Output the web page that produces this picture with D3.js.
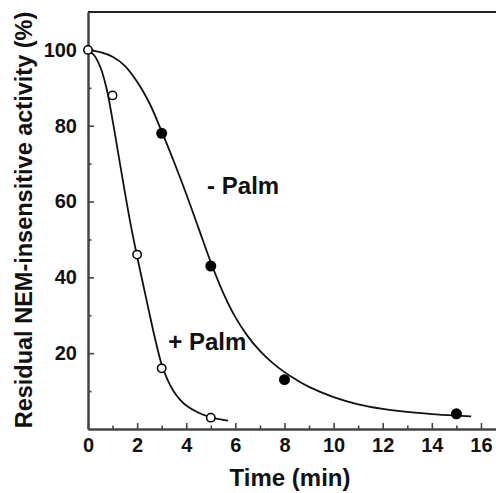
<!DOCTYPE html>
<html>
<head>
<meta charset="utf-8">
<script src="https://cdn.jsdelivr.net/npm/d3@7"></script>
<style>
  body { margin: 0; background: #fff; }
  svg { display: block; }
  text { font-family: "Liberation Sans", Arial, sans-serif; font-weight: bold; fill: #111; }
</style>
</head>
<body>
<div id="chart"></div>
<script>
// measured points
const plusT = [0, 1, 2, 3, 5];
const plusV = [100, 88, 46, 16, 3];
const minusT = [3, 5, 8, 15];
const minusV = [78, 43, 13, 4];

// fitted curves
const plusCurveT = [0, 0.25, 0.5, 0.75, 1, 1.25, 1.5, 1.75, 2, 2.25, 2.5, 2.75, 3, 3.25, 3.5, 3.75, 4, 4.5, 5, 5.35, 5.7];
const plusCurveV = [100, 98.6, 95.5, 90, 81.5, 72, 62.5, 53.5, 45.5, 38, 30.5, 23.3, 17, 12.8, 9.8, 7.7, 6.2, 4.3, 3.1, 2.6, 2.2];
const minusCurveT = [0, 0.5, 1, 1.5, 2, 2.5, 3, 3.5, 4, 4.5, 5, 5.5, 6, 6.5, 7, 7.5, 8, 8.5, 9, 10, 11, 12, 13, 14, 15, 15.6];
const minusCurveV = [100, 99.4, 98.2, 95.8, 91.6, 86, 78.5, 70.5, 62, 53, 44, 36, 29.5, 24.5, 20.6, 17.5, 15, 12.9, 11.1, 8.4, 6.5, 5.3, 4.5, 3.95, 3.55, 3.35];

const xMajor = [0, 2, 4, 6, 8, 10, 12, 14, 16];
const xMinor = [1, 3, 5, 7, 9, 11, 13, 15];
const yMajor = [20, 40, 60, 80, 100];
const yMinor = [10, 30, 50, 70, 90];

const width = 496, height = 493;

const svg = d3.select("#chart").append("svg")
    .attr("width", width)
    .attr("height", height);

const x = d3.scaleLinear().domain([0, 16.6]).range([88, 495.7]);
const y = d3.scaleLinear().domain([0, 110]).range([429, 12]);

// top frame line
svg.append("line")
    .attr("x1", x(0)).attr("x2", width)
    .attr("y1", y(110)).attr("y2", y(110))
    .attr("stroke", "#222").attr("stroke-width", 2);

function styleAxis(g) {
    g.select(".domain").attr("stroke", "#444").attr("stroke-width", 2);
    g.selectAll(".tick line").attr("stroke", "#444").attr("stroke-width", 1.6);
    g.selectAll(".tick text")
        .attr("fill", "#111")
        .attr("font-size", 20)
        .attr("font-family", "'Liberation Sans', Arial, sans-serif")
        .attr("font-weight", "bold");
}

// minor ticks
svg.append("g")
    .attr("transform", `translate(0,${y(0)})`)
    .call(d3.axisBottom(x).tickValues(xMinor).tickSize(-3.5).tickSizeOuter(0).tickFormat(""))
    .call(styleAxis);
svg.append("g")
    .attr("transform", `translate(${x(0)},0)`)
    .call(d3.axisLeft(y).tickValues(yMinor).tickSize(-3.5).tickSizeOuter(0).tickFormat(""))
    .call(styleAxis);

// major ticks
svg.append("g")
    .attr("transform", `translate(0,${y(0)})`)
    .call(d3.axisBottom(x).tickValues(xMajor).tickSize(-6).tickSizeOuter(0).tickPadding(9).tickFormat(d3.format("d")))
    .call(styleAxis);
svg.append("g")
    .attr("transform", `translate(${x(0)},0)`)
    .call(d3.axisLeft(y).tickValues(yMajor).tickSize(-6).tickSizeOuter(0).tickPadding(11).tickFormat(d3.format("d")))
    .call(styleAxis);

// curves
const line = d3.line()
    .x(d => x(d[0]))
    .y(d => y(d[1]))
    .curve(d3.curveCatmullRom.alpha(0.5));

svg.append("path")
    .datum(plusCurveT.map((t, i) => [t, plusCurveV[i]]))
    .attr("d", line)
    .attr("fill", "none").attr("stroke", "#111").attr("stroke-width", 1.8);

svg.append("path")
    .datum(minusCurveT.map((t, i) => [t, minusCurveV[i]]))
    .attr("d", line)
    .attr("fill", "none").attr("stroke", "#111").attr("stroke-width", 1.8);

// points
svg.append("g").selectAll("circle")
    .data(minusT.map((t, i) => [t, minusV[i]]))
    .enter().append("circle")
    .attr("cx", d => x(d[0]))
    .attr("cy", d => y(d[1]))
    .attr("r", 5.5)
    .attr("fill", "#000");

svg.append("g").selectAll("circle")
    .data(plusT.map((t, i) => [t, plusV[i]]))
    .enter().append("circle")
    .attr("cx", d => x(d[0]))
    .attr("cy", d => y(d[1]))
    .attr("r", 4.2)
    .attr("fill", "#fff")
    .attr("stroke", "#000")
    .attr("stroke-width", 1.5);

// series labels
svg.append("text")
    .attr("x", x(4.85)).attr("y", y(62))
    .attr("font-size", 24)
    .text("- Palm");
svg.append("text")
    .attr("x", x(3.27)).attr("y", y(20.8))
    .attr("font-size", 24)
    .text("+ Palm");

// axis titles
svg.append("text")
    .attr("x", 290).attr("y", 486)
    .attr("text-anchor", "middle")
    .attr("font-size", 24)
    .text("Time (min)");

svg.append("text")
    .attr("transform", "translate(32,220) rotate(-90)")
    .attr("text-anchor", "middle")
    .attr("font-size", 23.5)
    .text("Residual NEM-insensitive activity (%)");
</script>
</body>
</html>
